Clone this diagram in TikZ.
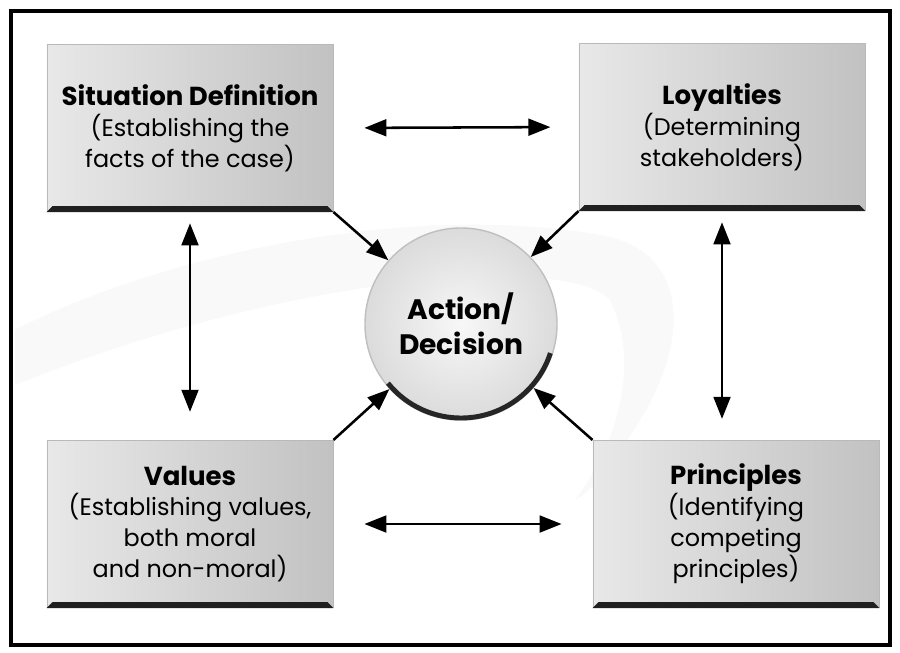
\documentclass[tikz,border=0pt]{standalone}
\usepackage{fontspec}
\setmainfont{Poppins}
\usetikzlibrary{arrows.meta,calc}

\tikzset{
  card/.style={minimum width=7.15cm, minimum height=4.18cm, align=center, inner sep=0pt,
    left color=gray!18, right color=gray!48, draw=gray!55, line width=0.6pt,
    font=\fontsize{17}{22}\selectfont},
  hub/.style={circle, minimum size=4.8cm, inner color=gray!6, outer color=gray!28,
    draw=gray!50, line width=1pt, align=center, font=\fontsize{20}{25}\selectfont\bfseries},
  tip/.style={Triangle[length=5.5mm,width=4.2mm]},
  link/.style={-{Triangle[length=5.5mm,width=4.2mm]}, line width=1.8pt},
  both/.style={{Triangle[length=5.5mm,width=4.2mm]}-{Triangle[length=5.5mm,width=4.2mm]}, line width=1.8pt},
}

\begin{document}
\begin{tikzpicture}[x=0.025cm, y=-0.025cm]
  % Frame
  \useasboundingbox (0,0) rectangle (900,652);
  \fill[white] (0,0) rectangle (900,652);
  \draw[line width=3pt] (11,11) rectangle (890,645);

  % Faint swoosh in the background
  \fill[gray!5] (15,330) .. controls (150,260) and (400,200) .. (600,235)
    .. controls (690,250) and (690,340) .. (640,420)
    .. controls (615,460) and (600,485) .. (575,500)
    .. controls (620,440) and (640,360) .. (610,300)
    .. controls (570,255) and (300,270) .. (15,385) -- cycle;

  % Boxes
  \node[card] (sitdef) at (190,128) {{\fontsize{18.5}{22}\selectfont\bfseries Situation Definition}\\(Establishing the\\facts of the case)};
  \node[card] (loyal) at (722,127) {{\fontsize{18.5}{22}\selectfont\bfseries Loyalties}\\(Determining\\stakeholders)};
  \node[card] (values) at (190,524) {{\fontsize{18.5}{22}\selectfont\bfseries Values}\\(Establishing values,\\both moral\\and non-moral)};
  \node[card] (princ) at (736,524) {{\fontsize{18.5}{22}\selectfont\bfseries Principles}\\(Identifying\\competing\\principles)};

  % Dark bottom edge of the boxes
  \foreach \n in {sitdef,loyal,values,princ}
    \fill[gray!25!black] (\n.south west) -- (\n.south east) -- ($(\n.south east)+(-6,-6)$)
      -- ($(\n.south west)+(6,-6)$) -- cycle;

  % Centre
  \node[hub] (action) at (461,324) {Action/\\Decision};
  \draw[gray!30!black, line width=3.5pt] ($(action)+(141:94)$) arc[start angle=141, end angle=18, radius=94];

  % Arrows between boxes
  \draw[both, shorten <=22, shorten >=20] (sitdef.east) -- (loyal.west);
  \draw[both, shorten <=22, shorten >=22] (values.east) -- (princ.west);
  \draw[both, shorten <=8, shorten >=20] (sitdef.south) -- (values.north);
  \draw[both, shorten <=8, shorten >=15] (loyal.south) -- (loyal.south |- princ.north);

  % Arrows into the centre
  \draw[link] (sitdef.south east) -- (action);
  \draw[link] (loyal.south west) -- (action);
  \draw[link] (values.north east) -- (action);
  \draw[link] (princ.north west) -- (action);
\end{tikzpicture}
\end{document}
